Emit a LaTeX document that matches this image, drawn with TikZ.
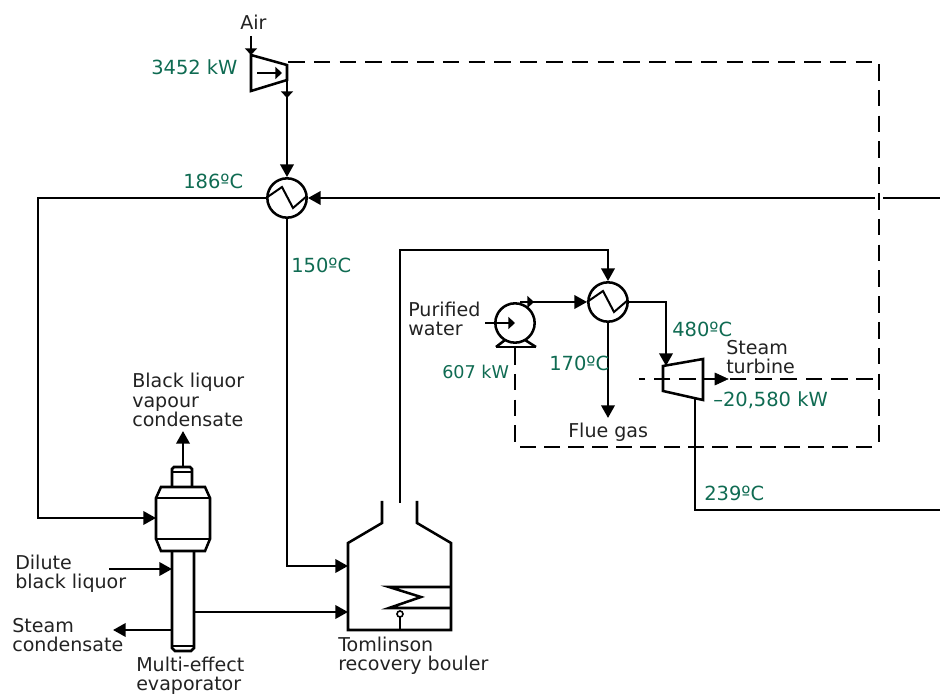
\documentclass[tikz,border=0pt]{standalone}
\usepackage{xcolor}
\usepackage{fontspec}
\setmainfont{DejaVu Sans}
\usetikzlibrary{arrows.meta}
\definecolor{valgreen}{HTML}{0F6B52}
\definecolor{labgrey}{HTML}{222222}
\tikzset{
  pipe/.style={black,line width=1.9pt,line join=miter},
  flow/.style={pipe,-{Triangle[length=9.5pt,width=10pt]}},
  smallflow/.style={pipe,-{Triangle[length=5pt,width=9pt]}},
  power/.style={black,line width=1.9pt,dash pattern=on 12.5pt off 6.85pt},
  hx/.style={circle,draw=black,line width=1.9pt,minimum size=29.5pt,inner sep=0pt},
  lab/.style={inner sep=0pt,text=labgrey,font=\fontsize{14.3}{14.6}\selectfont,align=left},
  val/.style={inner sep=0pt,text=valgreen,font=\fontsize{14.6}{15}\selectfont}
}
\begin{document}
\begin{tikzpicture}[x=0.75pt,y=0.75pt]
        \useasboundingbox (0,0) rectangle (940,-695);
        % units and end points
        \node [hx] (hxair) at (287,-198) {};
        \node [hx] (hxwater) at (608,-302) {};
        \node [hx] (pump) at (515,-323) {};
        \coordinate (aircomp) at (251,-55);
        \coordinate (compout) at (287,-80);
        \coordinate (comppower) at (288,-62);
        \coordinate (airin) at (251,-36);
        \coordinate (eastin) at (940,-198);
        \coordinate (gapright) at (883,-198);
        \coordinate (gapleft) at (875,-198);
        \coordinate (eastout) at (940,-510);
        \coordinate (corner1) at (38,-198);
        \coordinate (corner2) at (38,-518);
        \coordinate (drumin) at (156,-518);
        \coordinate (corner3) at (287,-566);
        \coordinate (boilerin1) at (348,-566);
        \coordinate (boilerin2) at (348,-612);
        \coordinate (evapout) at (194,-612);
        \coordinate (boilertop) at (400,-503);
        \coordinate (corner4) at (400,-250);
        \coordinate (corner5) at (608,-250);
        \coordinate (turbin) at (666,-366);
        \coordinate (corner6) at (666,-302);
        \coordinate (turbout) at (695,-397);
        \coordinate (corner7) at (695,-510);
        \coordinate (pumpout) at (527,-302);
        \coordinate (pumpin) at (485,-323);
        \coordinate (pumpfoot) at (515,-348);
        \coordinate (fluegas) at (608,-418);
        \coordinate (dash1) at (873,-62);
        \coordinate (dash2) at (879,-64);
        \coordinate (dash3) at (879,-448);
        \coordinate (dash4) at (520,-447);
        \coordinate (dash5) at (873,-447);
        \coordinate (dash6) at (515,-442);
        \coordinate (shaft1) at (639,-379);
        \coordinate (shaft2) at (873,-379);
        \coordinate (dilute) at (109,-569);
        \coordinate (dilutein) at (172,-569);
        \coordinate (condout) at (172,-630);
        \coordinate (condend) at (113,-630);
        \coordinate (vapour) at (183,-467);
        \coordinate (vapourend) at (183,-431);
        % compressor
        \draw [pipe] (251,-55) -- (287,-65) -- (287,-80) -- (251,-91) -- cycle;
        \draw [smallflow] (257,-73) -- (282,-73);
        \draw [smallflow] (airin) -- (aircomp);
        \draw [smallflow] (compout) -- (287,-98);
        \draw [flow] (287,-95) -- (hxair.north);
        % exchangers
        \draw [pipe,line width=1.5pt] (hxair.west) -- (282,-187) -- (293,-208) -- (307,-196);
        \draw [pipe,line width=1.5pt] (hxwater.west) -- (603,-291) -- (614,-312) -- (628,-300);
        \draw [pipe] (eastin) -- (gapright);
        \draw [flow] (gapleft) -- (hxair.east);
        \draw [flow] (hxair.west) -- (corner1) -- (corner2) -- (drumin);
        \draw [flow] (hxair.south) -- (corner3) -- (boilerin1);
        \draw [flow] (boilertop) -- (corner4) -- (corner5) -- (hxwater.north);
        \draw [flow] (hxwater.east) -- (corner6) -- (turbin);
        \draw [flow] (hxwater.south) -- (fluegas);
        % pump
        \draw [pipe] (496,-347) -- (536,-347);
        \draw [pipe] (496,-347) -- (505,-340);
        \draw [pipe] (536,-347) -- (525,-340);
        \draw [smallflow] (pumpin) -- (515,-323);
        \draw [flow] (pumpout) -- (hxwater.west);
        \draw [smallflow] (520,-302) -- (534,-302);
        % turbine
        \draw [pipe] (663,-366) -- (703,-359) -- (703,-400) -- (663,-391) -- cycle;
        \draw [pipe] (turbout) -- (corner7) -- (eastout);
        \draw [power,dash pattern=on 12.5pt off 6.5pt] (shaft2) -- (shaft1);
        \draw [black,fill=black] (715,-373) -- (728,-379) -- (715,-385) -- cycle;
        % power lines
        \draw [power] (comppower) -- (dash1);
        \draw [power] (dash2) -- (dash3);
        \draw [power,dash pattern=on 12pt off 6pt] (dash4) -- (dash5);
        \draw [power] (pumpfoot) -- (dash6);
        % evaporator
        \draw [pipe] (161,-487) -- (205,-487) -- (210,-498) -- (210,-539) -- (205,-551) -- (161,-551) -- (156,-539) -- (156,-498) -- cycle;
        \draw [pipe] (156,-498) -- (210,-498);
        \draw [pipe] (156,-539) -- (210,-539);
        \draw [pipe] (172,-487) -- (172,-469) -- (174,-467) -- (190,-467) -- (192,-469) -- (192,-487);
        \draw [pipe,line width=1.2pt] (172,-472) -- (192,-472);
        \draw [pipe] (172,-551) -- (172,-648) -- (175,-651) -- (191,-651) -- (194,-648) -- (194,-551);
        \draw [pipe,line width=1.2pt] (172,-646) -- (194,-646);
        \draw [flow] (vapour) -- (vapourend);
        \draw [flow] (dilute) -- (dilutein);
        \draw [flow] (condout) -- (condend);
        \draw [flow] (evapout) -- (boilerin2);
        % boiler
        \draw [pipe] (382,-501) -- (382,-523) -- (348,-543) -- (348,-630) -- (451,-630) -- (451,-543) -- (417,-523) -- (417,-501);
        \draw [pipe] (451,-587) -- (389,-587) -- (421,-597) -- (389,-608) -- (451,-608);
        \draw [pipe] (400,-630) -- (400,-617);
        \draw [black,line width=1.2pt] (400,-614) circle (3);
        % texts
        \node [lab,anchor=west] (tair) at (240,-22) {Air};
        \node [val,anchor=west] (tcomp) at (151,-67) {3452 kW};
        \node [val,anchor=west] (t186) at (183,-181) {186ºC};
        \node [val,anchor=west] (t150) at (291,-265) {150ºC};
        \node [lab,anchor=west] (tpure) at (408,-319) {Purified\\water};
        \node [val,anchor=west,font=\fontsize{13.2}{14}\selectfont] (t607) at (442,-372) {607 kW};
        \node [val,anchor=west] (t170) at (549,-363) {170ºC};
        \node [val,anchor=west] (t480) at (672,-329) {480ºC};
        \node [lab,anchor=west] (tsteam) at (726,-357) {Steam\\turbine};
        \node [val,anchor=west] (tturb) at (713,-400) {–20,580 kW};
        \node [lab,anchor=west] (tflue) at (568,-432) {Flue gas};
        \node [val,anchor=west] (t239) at (704,-493) {239ºC};
        \node [lab,anchor=west] (tblack) at (132,-400) {Black liquor\\vapour\\condensate};
        \node [lab,anchor=west] (tdilute) at (15,-574) {Dilute\\black liquor};
        \node [lab,anchor=west] (tcond) at (12,-635) {Steam\\condensate};
        \node [lab,anchor=west] (tevap) at (136,-676) {Multi-effect\\evaporator};
        \node [lab,anchor=west] (tboiler) at (338,-656) {Tomlinson\\recovery bouler};
\end{tikzpicture}
\end{document}
